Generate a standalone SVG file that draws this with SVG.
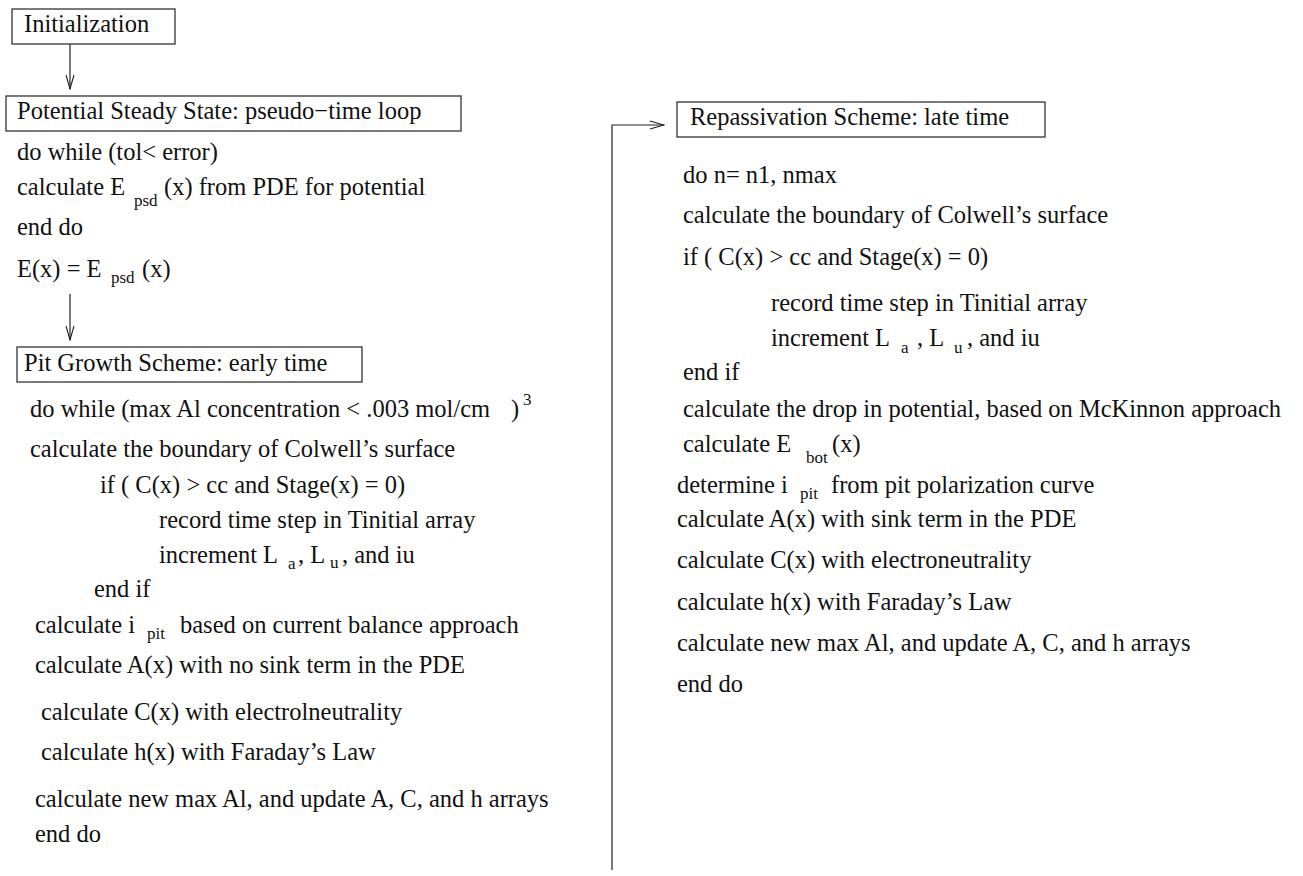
<svg xmlns="http://www.w3.org/2000/svg" width="1303" height="876" viewBox="0 0 1303 876">
<defs>
<style>
text{font-family:"Liberation Serif","Times New Roman",serif;font-size:24.5px;fill:#111;}
.sub{font-size:17px;}
.box{fill:#fff;stroke:#333;stroke-width:1.3;}
.con{fill:none;stroke:#222;stroke-width:1.2;}
</style>
<marker id="arr" markerWidth="16" markerHeight="10" refX="15" refY="5" orient="auto" markerUnits="userSpaceOnUse">
<path d="M1,1 L15,5 L1,9" fill="none" stroke="#222" stroke-width="1.1"/>
</marker>
</defs>
<rect width="1303" height="876" fill="#fff"/>
<g id="connectors">
<line class="con" x1="70" y1="44" x2="70" y2="89" marker-end="url(#arr)"/>
<line class="con" x1="70" y1="294" x2="70" y2="340" marker-end="url(#arr)"/>
<polyline class="con" points="612,870 612,125 664,125" marker-end="url(#arr)"/>
</g>
<g id="initialization">
<rect class="box" x="12" y="9" width="163" height="35"/>
<text x="24" y="32">Initialization</text>
</g>
<g id="potential">
<rect class="box" x="6" y="96" width="455" height="35"/>
<text x="17" y="119">Potential Steady State: pseudo−time loop</text>
<text x="17" y="160">do while (tol&lt; error)</text>
<text x="17" y="195">calculate E</text>
<text class="sub" x="134" y="206">psd</text>
<text x="164" y="195">(x) from PDE for potential</text>
<text x="17" y="235">end do</text>
<text x="17" y="277">E(x) = E</text>
<text class="sub" x="111" y="283">psd</text>
<text x="142" y="277">(x)</text>
</g>
<g id="pitgrowth">
<rect class="box" x="17" y="347" width="345" height="35"/>
<text x="24" y="371">Pit Growth Scheme: early time</text>
<text x="30" y="417">do while (max Al concentration &lt; .003 mol/cm</text>
<text x="511" y="417">)</text>
<text class="sub" x="523" y="405">3</text>
<text x="30" y="457">calculate the boundary of Colwell’s surface</text>
<text x="100" y="493">if ( C(x) &gt; cc and Stage(x) = 0)</text>
<text x="159" y="528">record time step in Tinitial array</text>
<text x="159" y="563">increment L</text>
<text class="sub" x="288" y="569">a</text>
<text x="298" y="563">, L</text>
<text class="sub" x="330" y="568">u</text>
<text x="342" y="563">, and iu</text>
<text x="94" y="597">end if</text>
<text x="35" y="633">calculate i</text>
<text class="sub" x="147" y="639">pit</text>
<text x="180" y="633">based on current balance approach</text>
<text x="35" y="673">calculate A(x) with no sink term in the PDE</text>
<text x="41" y="720">calculate C(x) with electrolneutrality</text>
<text x="41" y="760">calculate h(x) with Faraday’s Law</text>
<text x="35" y="807">calculate new max Al, and update A, C, and h arrays</text>
<text x="35" y="842">end do</text>
</g>
<g id="repassivation">
<rect class="box" x="677" y="102" width="368" height="35"/>
<text x="690" y="125">Repassivation Scheme: late time</text>
<text x="683" y="183">do n= n1, nmax</text>
<text x="683" y="223">calculate the boundary of Colwell’s surface</text>
<text x="683" y="265">if ( C(x) &gt; cc and Stage(x) = 0)</text>
<text x="771" y="311">record time step in Tinitial array</text>
<text x="771" y="346">increment L</text>
<text class="sub" x="901" y="353">a</text>
<text x="917" y="346">, L</text>
<text class="sub" x="954" y="353">u</text>
<text x="967" y="346">, and iu</text>
<text x="683" y="380">end if</text>
<text x="683" y="417">calculate the drop in potential, based on McKinnon approach</text>
<text x="683" y="452">calculate E</text>
<text class="sub" x="806" y="463">bot</text>
<text x="832" y="452">(x)</text>
<text x="677" y="493">determine i</text>
<text class="sub" x="800" y="499">pit</text>
<text x="831" y="493">from pit polarization curve</text>
<text x="677" y="527">calculate A(x) with sink term in the PDE</text>
<text x="677" y="568">calculate C(x) with electroneutrality</text>
<text x="677" y="610">calculate h(x) with Faraday’s Law</text>
<text x="677" y="651">calculate new max Al, and update A, C, and h arrays</text>
<text x="677" y="692">end do</text>
</g>
</svg>
